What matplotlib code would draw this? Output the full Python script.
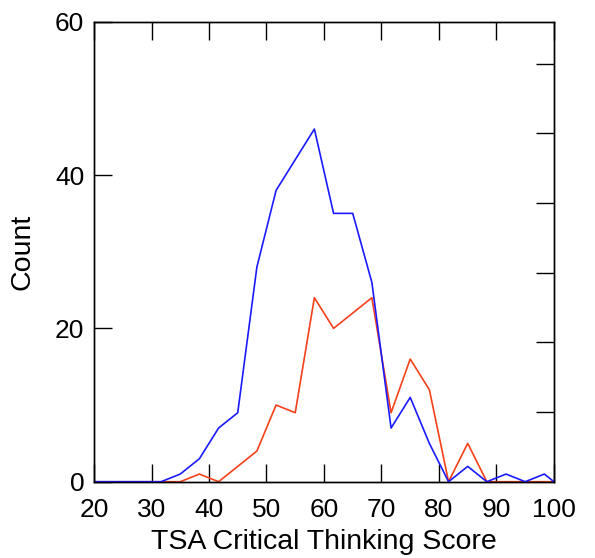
import matplotlib
matplotlib.use("Agg")
import matplotlib.pyplot as plt

plt.rcParams['font.family'] = ['Liberation Sans', 'DejaVu Sans']

# Score bins (bin centres, width 10/3) with padding ends at the axis limits
scores = [20, 21.67, 25, 28.33, 31.67, 35, 38.33, 41.67, 45, 48.33, 51.67, 55,
          58.33, 61.67, 65, 68.33, 71.67, 75, 78.33, 81.67, 85, 88.33, 91.67,
          95, 98.33, 100]
count_blue = [0, 0, 0, 0, 0, 1, 3, 7, 9, 28, 38, 42, 46, 35, 35, 26, 7, 11, 5,
              0, 2, 0, 1, 0, 1, 0]
count_red = [0, 0, 0, 0, 0, 0, 1, 0, 2, 4, 10, 9, 24, 20, 22, 24, 9, 16, 12,
             0, 5, 0, 0, 0, 0, 0]

x_ticks = [20, 30, 40, 50, 60, 70, 80, 90, 100]
y_ticks = [0, 20, 40, 60]
right_ticks = [10, 20, 30, 40, 50, 60]

fig = plt.figure(figsize=(5.95, 5.58), dpi=100)
ax = fig.add_axes([0.158, 0.1367, 0.773, 0.8244])

ax.plot(scores, count_red, color='#f5401a', lw=1.2, clip_on=True, zorder=2)
ax.plot(scores, count_blue, color='#1a1aff', lw=1.2, clip_on=True, zorder=3)

ax.set_xlim(20, 100)
ax.set_ylim(0, 60)
ax.set_xticks(x_ticks)
ax.set_yticks(y_ticks)
ax.tick_params(axis='x', direction='in', length=13, width=1.0, top=True,
               labeltop=False, labelsize=19, pad=12)
ax.tick_params(axis='y', direction='in', length=13, width=1.0, right=False,
               labelsize=19, pad=7)
for s in ax.spines.values():
    s.set_linewidth(1.0)

ax.set_xlabel('TSA Critical Thinking Score', fontsize=20.5, labelpad=5)
ax.set_ylabel('Count', fontsize=20.5, labelpad=14)

# secondary scale on the right: ticks only
ax2 = ax.twinx()
ax2.set_ylim(0, 66)
ax2.set_yticks(right_ticks)
ax2.tick_params(axis='y', direction='in', length=13, width=1.0,
                labelright=False)
for s in ax2.spines.values():
    s.set_linewidth(1.0)

fig.savefig('out.png', dpi=100)
